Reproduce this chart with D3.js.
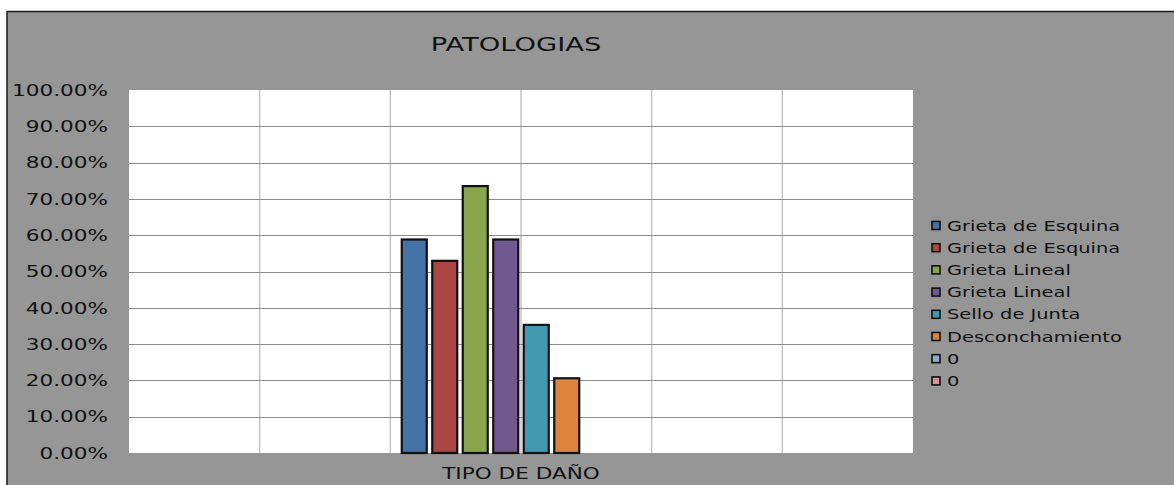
<!DOCTYPE html>
<html><head><meta charset="utf-8">
<script src="https://cdn.jsdelivr.net/npm/d3@7"></script>
<style>
html,body{margin:0;padding:0;background:#fff;}
svg{display:block;}
text{font-family:"DejaVu Sans",Verdana,sans-serif;}
</style></head>
<body>
<script>
const title = "PATOLOGIAS";
const categories = ["TIPO DE DAÑO"];
const seriesNames = ["Grieta de Esquina","Grieta de Esquina","Grieta Lineal","Grieta Lineal","Sello de Junta","Desconchamiento","0","0"];
const seriesValues = [0.5882, 0.5294, 0.7353, 0.5882, 0.3529, 0.2059, 0, 0];
const seriesColors = ["#4572A7","#AA4643","#89A54E","#71588F","#4198AF","#DB843D","#93A9CF","#D19392"];
const yTicks = [0,0.1,0.2,0.3,0.4,0.5,0.6,0.7,0.8,0.9,1.0];

const W = 1174, H = 485;
const SX = 1.44; // horizontal text stretch, as in the reference rendering
const svg = d3.select("body").append("svg").attr("width", W).attr("height", H);

function stretchedText(g, x, y, str, size, anchor) {
  return g.append("text")
    .attr("transform", `translate(${x},${y}) scale(${SX},1)`)
    .attr("text-anchor", anchor).attr("font-size", size).attr("fill", "#111").text(str);
}

// chart frame
svg.append("rect").attr("x", 7).attr("y", 11.5).attr("width", W).attr("height", H)
  .attr("fill", "#969696").attr("stroke", "#1a1a1a").attr("stroke-width", 1.5);

const plot = {l:129, r:913, t:90, b:453};

svg.append("rect").attr("x", plot.l).attr("y", plot.t)
  .attr("width", plot.r - plot.l).attr("height", plot.b - plot.t).attr("fill", "#fff");

const y = d3.scaleLinear().domain([0, 1]).range([plot.b, plot.t]);
const x0 = d3.scaleBand().domain(categories).range([plot.l, plot.r]).paddingInner(0).paddingOuter(0);
const groupW = 244;
const cx = x0(categories[0]) + x0.bandwidth()/2;
const x1 = d3.scaleBand().domain(d3.range(seriesValues.length))
  .range([cx - groupW/2, cx + groupW/2])
  .paddingInner(0.18).paddingOuter(0.09);

// vertical gridlines (6 divisions)
const xg = d3.scaleLinear().domain([0, 6]).range([plot.l, plot.r]);
svg.append("g").selectAll("line").data(d3.range(1, 6)).join("line")
  .attr("x1", d => xg(d)).attr("x2", d => xg(d))
  .attr("y1", plot.t).attr("y2", plot.b)
  .attr("stroke", "#c4c4c4").attr("stroke-width", 1.5);

// horizontal gridlines
svg.append("g").selectAll("line").data(yTicks.slice(1, -1)).join("line")
  .attr("x1", plot.l).attr("x2", plot.r)
  .attr("y1", d => Math.round(y(d)) + 0.5).attr("y2", d => Math.round(y(d)) + 0.5)
  .attr("stroke", "#8c8c8c").attr("stroke-width", 1.2);

// y axis labels
const yAxis = d3.axisLeft(y).tickValues(yTicks).tickSize(0).tickPadding(0)
  .tickFormat(d => (d * 100).toFixed(2) + "%");
const ya = svg.append("g").attr("transform", `translate(108,0)`).call(yAxis);
ya.select(".domain").remove();
ya.selectAll("text").attr("font-size", 15).attr("fill", "#111")
  .attr("font-family", '"DejaVu Sans",Verdana,sans-serif').attr("dy", "0.35em")
  .attr("x", 0).attr("transform", `scale(${SX},1)`);

// bars
svg.append("g").selectAll("rect").data(seriesValues.map((v, i) => ({v, i}))).join("rect")
  .filter(d => d.v > 0)
  .attr("x", d => x1(d.i))
  .attr("y", d => y(d.v))
  .attr("width", x1.bandwidth())
  .attr("height", d => y(0) - y(d.v))
  .attr("fill", d => seriesColors[d.i])
  .attr("stroke", "#111").attr("stroke-width", 2.2);

// category label
categories.forEach(c => stretchedText(svg, x0(c) + x0.bandwidth()/2, 479, c, 15, "middle"));

// title
stretchedText(svg, 516, 51, title, 19, "middle");

// legend
const lg = svg.append("g");
seriesNames.forEach((n, i) => {
  const yy = 225.5 + i * 22.2;
  lg.append("rect").attr("x", 932).attr("y", yy - 4).attr("width", 8).attr("height", 8)
    .attr("fill", seriesColors[i]).attr("stroke", "#111").attr("stroke-width", 1.6);
  stretchedText(lg, 947, yy + 5, n, 13.5, "start");
});
</script>
</body></html>
